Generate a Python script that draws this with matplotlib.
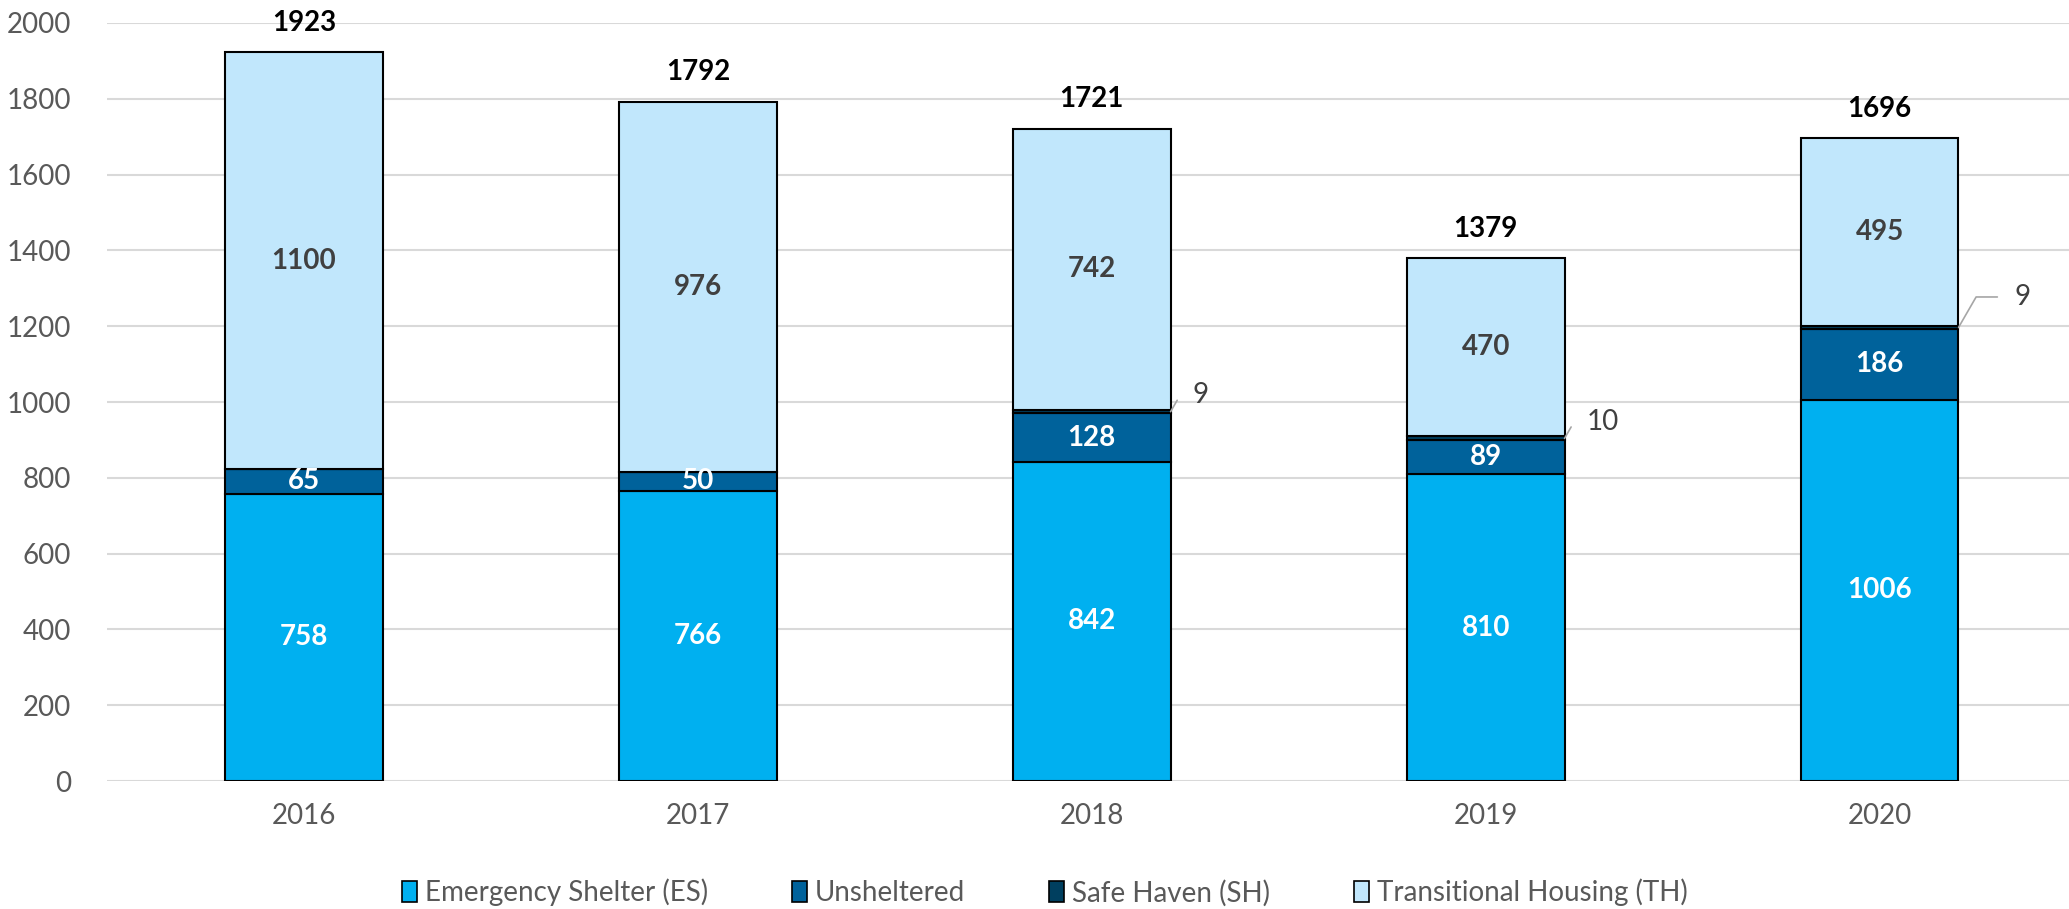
import numpy as np
import matplotlib.pyplot as plt
from matplotlib.patches import Patch

# ------------------------------------------------------------------
# data
# ------------------------------------------------------------------
years        = ["2016", "2017", "2018", "2019", "2020"]
emergency    = [758, 766, 842, 810, 1006]
unsheltered  = [65, 50, 128, 89, 186]
safe_haven   = [0, 0, 9, 10, 9]
transitional = [1100, 976, 742, 470, 495]
totals       = [1923, 1792, 1721, 1379, 1696]

series_names = ["Emergency Shelter (ES)", "Unsheltered", "Safe Haven (SH)", "Transitional Housing (TH)"]
colors       = ["#00B0F0", "#00629B", "#003F5F", "#C1E7FC"]

plt.rcParams['font.family'] = ['Lato', 'DejaVu Sans']

fig = plt.figure(figsize=(20.69, 9.09), dpi=100)
ax = fig.add_axes([0.0517, 0.1408, 0.952, 0.8339])

x = np.arange(len(years))
w = 0.40
layers = [emergency, unsheltered, safe_haven, transitional]
bottom = np.zeros(len(years))
for vals, col in zip(layers, colors):
    ax.bar(x, vals, w, bottom=bottom, color=col, edgecolor="black", linewidth=1.5, zorder=3)
    bottom += np.array(vals)

# labels inside bars
for i in range(len(years)):
    ax.text(x[i], emergency[i] / 2, str(emergency[i]), ha="center", va="center",
            color="white", fontsize=20, fontweight="bold", zorder=4)
    ax.text(x[i], emergency[i] + unsheltered[i] / 2, str(unsheltered[i]), ha="center", va="center",
            color="white", fontsize=20, fontweight="bold", zorder=4)
    base = emergency[i] + unsheltered[i] + safe_haven[i]
    ax.text(x[i], base + transitional[i] / 2, str(transitional[i]), ha="center", va="center",
            color="#404040", fontsize=20, fontweight="bold", zorder=4)
    ax.annotate(str(totals[i]), (x[i], totals[i]), xytext=(0, 12), textcoords="offset points",
                ha="center", va="bottom", fontsize=20, fontweight="bold", color="black")

# safe haven callouts with leader lines
sh_offsets = {2: (16, 12), 3: (16, 12), 4: (40, 22)}
for i, (dx, dy) in sh_offsets.items():
    if safe_haven[i] == 0:
        continue
    yv = emergency[i] + unsheltered[i] + safe_haven[i] / 2
    ax.annotate(str(safe_haven[i]), (x[i] + w / 2, yv), xytext=(dx, dy), textcoords="offset points",
                ha="left", va="center", fontsize=20, color="#404040",
                arrowprops=dict(arrowstyle="-", color="#A6A6A6", lw=1.2,
                                connectionstyle="angle,angleA=0,angleB=60,rad=0",
                                shrinkA=10, shrinkB=0))

ax.set_xlim(-0.5, 4.5)
ax.set_ylim(0, 2000)
ax.set_yticks(range(0, 2001, 200))
ax.set_xticks(x)
ax.set_xticklabels(years)
ax.tick_params(axis="both", length=0, labelsize=20, labelcolor="#595959")
ax.tick_params(axis="x", pad=16)
ax.tick_params(axis="y", pad=26)
ax.grid(axis="y", color="#D9D9D9", linewidth=1.5, zorder=0)
for s in ax.spines.values():
    s.set_visible(False)

handles = [Patch(facecolor=c, edgecolor="black", linewidth=1.2) for c in colors]
fig.legend(handles, series_names, loc="center", bbox_to_anchor=(0.505, 0.018),
           ncol=4, frameon=False, fontsize=20, labelcolor="#595959",
           handlelength=0.55, handleheight=0.8, handletextpad=0.3, columnspacing=3.0)

fig.savefig("out.png", dpi=100)
